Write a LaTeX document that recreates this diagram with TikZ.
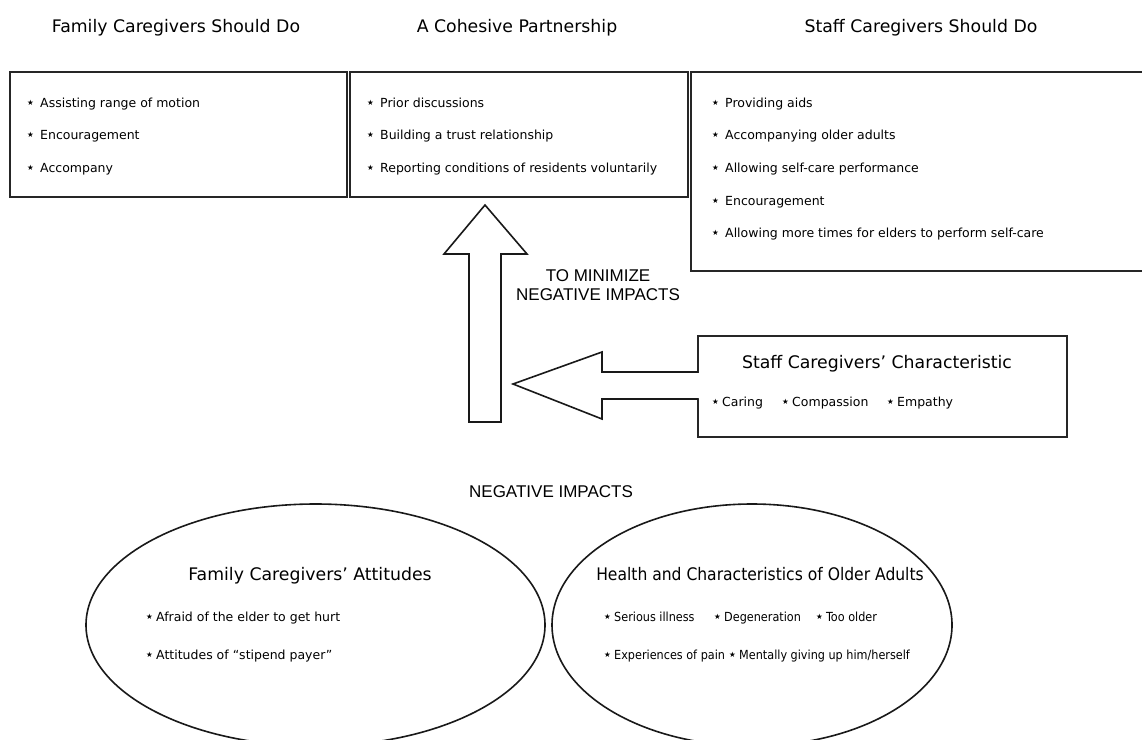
\documentclass[tikz,border=0pt]{standalone}
\usepackage{fontspec}
\setmainfont{DejaVu Sans}
\newfontfamily\arialf{Liberation Sans}
\newfontfamily\condf{DejaVu Sans Condensed}
\usetikzlibrary{shapes.geometric}
\newcommand\starglyph{\raisebox{1.6pt}{\fontsize{7.5}{8}\selectfont\mainstar}}
\newcommand\mainstar{{\setmainfont{DejaVu Sans}\normalfont ★}}
\newcommand\bst{\makebox[13pt][l]{\starglyph}}
\newcommand\est{\makebox[10pt][l]{\starglyph}}
\begin{document}
\begin{tikzpicture}[x=1pt,y=-1pt,
  box/.style={draw=black!85, line width=2pt, inner sep=0pt, anchor=north west},
  ttl/.style={font=\fontsize{17.3}{19}\selectfont, anchor=base, inner sep=0pt},
  itm/.style={font=\fontsize{12.5}{14}\selectfont, anchor=base west, inner sep=0pt},
  citm/.style={font=\condf\fontsize{12.5}{14}\selectfont, anchor=base west, inner sep=0pt},
  capt/.style={font=\arialf\fontsize{17}{19}\selectfont, align=center, inner sep=0pt},
  oval/.style={draw=black!90, ellipse, line width=1.6pt, inner sep=0pt},
  blk/.style={draw=black!90, line width=1.6pt, line join=miter}]
\useasboundingbox (0,0) rectangle (1142,739);
\clip (0,0) rectangle (1142,739);
\fill[white] (0,0) rectangle (1142,739);

% titles
\node[ttl] (t1) at (176,32) {Family Caregivers Should Do};
\node[ttl] (t2) at (517,32) {A Cohesive Partnership};
\node[ttl] (t3) at (921,32) {Staff Caregivers Should Do};

% top boxes
\node[box, minimum width=337pt, minimum height=125pt] (fam) at (9,71) {};
\node[box, minimum width=338pt, minimum height=125pt] (coh) at (349,71) {};
\node[box, minimum width=460pt, minimum height=199pt] (stf) at (690,71) {};

\node[itm] (f1) at (27,107) {\bst Assisting range of motion};
\node[itm] (f2) at (27,139) {\bst Encouragement};
\node[itm] (f3) at (27,172) {\bst Accompany};

\node[itm] (c1) at (367,107) {\bst Prior discussions};
\node[itm] (c2) at (367,139) {\bst Building a trust relationship};
\node[itm] (c3) at (367,172) {\bst Reporting conditions of residents voluntarily};

\node[itm] (s1) at (712,107) {\bst Providing aids};
\node[itm] (s2) at (712,139) {\bst Accompanying older adults};
\node[itm] (s3) at (712,172) {\bst Allowing self-care performance};
\node[itm] (s4) at (712,205) {\bst Encouragement};
\node[itm] (s5) at (712,237) {\bst Allowing more times for elders to perform self-care};

% staff characteristic box
\node[box, minimum width=369pt, minimum height=101pt] (chr) at (697,335) {};
\node[ttl] (chrt) at (877,368) {Staff Caregivers' Characteristic};
\node[itm] (ch1) at (712,406) {\est Caring};
\node[itm] (ch2) at (782,406) {\est Compassion};
\node[itm] (ch3) at (887,406) {\est Empathy};

% up arrow
\filldraw[blk, fill=white] (469,422) -- (469,254) -- (444,254) -- (485,205) -- (527,254) -- (501,254) -- (501,422) -- cycle;
% left arrow merging into the characteristic box
\fill[white] (699,373) -- (602,373) -- (602,352) -- (513,384) -- (602,419) -- (602,398) -- (699,398) -- cycle;
\draw[blk] (697.9,372) -- (602,372) -- (602,352) -- (513,384) -- (602,419) -- (602,399) -- (697.9,399);

\node[capt] (mini) at (598,285) {TO MINIMIZE\\NEGATIVE IMPACTS};
\node[capt, anchor=base] (neg) at (551,497) {NEGATIVE IMPACTS};

% ellipses
\node[oval, minimum width=459pt, minimum height=242pt] (e1) at (315.5,625) {};
\node[oval, minimum width=400pt, minimum height=242pt] (e2) at (752,625) {};

\node[ttl] (e1t) at (310,580) {Family Caregivers’ Attitudes};
\node[itm] (e1a) at (146,621) {\est Afraid of the elder to get hurt};
\node[itm] (e1b) at (146,659) {\est Attitudes of “stipend payer”};

\node[ttl, font=\condf\fontsize{17.3}{19}\selectfont] (e2t) at (760,580) {Health and Characteristics of Older Adults};
\node[citm] (e2a) at (604,621) {\est Serious illness};
\node[citm] (e2b) at (714,621) {\est Degeneration};
\node[citm] (e2c) at (816,621) {\est Too older};
\node[citm] (e2d) at (604,659) {\est Experiences of pain};
\node[citm] (e2e) at (729,659) {\est Mentally giving up him/herself};
\end{tikzpicture}
\end{document}
